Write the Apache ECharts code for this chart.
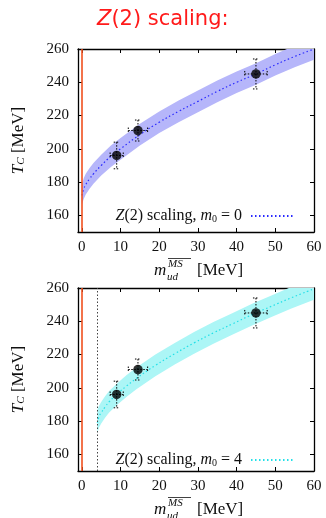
<!DOCTYPE html>
<html>
<head>
<meta charset="utf-8">
<script src="https://cdn.jsdelivr.net/npm/echarts@6/dist/echarts.min.js"></script>
<style>
  html, body { margin: 0; padding: 0; background: #fff; }
  #chart { width: 326px; height: 518px; }
</style>
</head>
<body>
<div id="chart"></div>
<script>
// axis ticks
const xTicks = [0, 10, 20, 30, 40, 50, 60];
const yTicks = [160, 180, 200, 220, 240, 260];

// lattice points: quark mass, T_c and their errors
const pointsM = [9.0, 14.5, 45.0];
const pointsT = [196, 211, 245];
const pointsErrM = [1.7, 2.5, 2.9];
const pointsErrT = [8, 6.3, 9];

// Z(2) fit, m0 = 0
const fitM_a = [0, 0.5, 1, 2, 3, 5, 7.5, 10, 15, 20, 25, 30, 35, 40, 45, 50, 55, 60];
const fitMid_a = [172, 176, 178.5, 182, 185, 190, 195.5, 200, 208.5, 216, 222.5, 228.5, 234.5, 240, 245, 250.5, 255.5, 260];
const fitLow_a = [166.5, 170, 172.5, 176, 179, 184, 189, 193.5, 202, 209.5, 216, 222, 228, 233.5, 238.5, 244, 249, 253.5];
const fitHigh_a = [178.5, 182.5, 185, 188.5, 191.5, 196.5, 202, 206.5, 215, 222.5, 229, 235, 241, 246.5, 251.5, 257, 262, 266.5];

// Z(2) fit, m0 = 4
const fitM_b = [4, 4.5, 5, 6, 7, 9, 11.5, 14, 19, 24, 29, 34, 39, 44, 49, 54, 60];
const fitMid_b = [179, 183, 185, 188.5, 191.5, 196, 201, 205.5, 213.5, 220.5, 227, 233, 238.5, 244, 249, 254, 259.5];
const fitLow_b = [173, 176.5, 178.5, 182, 185, 189.5, 194.5, 199, 207, 214, 220.5, 226.5, 232, 237.5, 242.5, 247.5, 253];
const fitHigh_b = [187, 189.5, 191.5, 195, 198, 202.5, 207.5, 212, 220, 227, 233.5, 239.5, 245, 250.5, 255.5, 260.5, 266];

const chiralM = 0;
const m0_b = 4;

const SERIF = 'Liberation Serif';
const INK = '#111';
const chart = echarts.init(document.getElementById('chart'));

const zip = (xs, ys) => xs.map((x, i) => [x, ys[i]]);

function xAxes(grid) {
  const base = {
    gridIndex: grid, type: 'value', min: -1, max: 60,
    splitLine: { show: false },
    axisLine: { show: true, onZero: false, lineStyle: { color: '#000', width: 1.3 } },
    axisTick: { show: true, inside: true, length: 4, customValues: xTicks, lineStyle: { color: '#000' } }
  };
  return [
    Object.assign({}, base, {
      position: 'bottom',
      axisLabel: { customValues: xTicks, margin: 8, color: INK, fontFamily: SERIF, fontSize: 15 }
    }),
    Object.assign({}, base, { position: 'top', axisLabel: { show: false } })
  ];
}

function yAxes(grid) {
  const base = {
    gridIndex: grid, type: 'value', min: 150, max: 260,
    splitLine: { show: false },
    axisLine: { show: true, onZero: false, lineStyle: { color: '#000', width: 1.3 } },
    axisTick: { show: true, inside: true, length: 4, customValues: yTicks, lineStyle: { color: '#000' } }
  };
  return [
    Object.assign({}, base, {
      position: 'left',
      axisLabel: { customValues: yTicks, margin: 9, color: INK, fontFamily: SERIF, fontSize: 15 },
      name: '{i|T}{s|C} [MeV]',
      nameLocation: 'middle', nameGap: 51, nameRotate: 90,
      nameTextStyle: {
        color: INK, fontFamily: SERIF, fontSize: 17,
        rich: {
          i: { fontFamily: SERIF, fontStyle: 'italic', fontSize: 17, color: INK },
          s: { fontFamily: SERIF, fontStyle: 'italic', fontSize: 11, color: INK, verticalAlign: 'bottom', lineHeight: 11 }
        }
      }
    }),
    Object.assign({}, base, { position: 'right', axisLabel: { show: false } })
  ];
}

// error band of a fit, drawn as one polygon through the axis scales
function bandSeries(xi, yi, ms, low, high, fill) {
  return {
    type: 'custom', xAxisIndex: xi, yAxisIndex: yi, z: 1, silent: true, clip: true,
    data: ms.map((m, i) => [m, low[i], high[i]]),
    encode: { x: 0, y: [1, 2] },
    renderItem: function (params, api) {
      if (params.dataIndex !== 0) return null;
      const lower = ms.map((m, i) => api.coord([m, low[i]]));
      const upper = ms.map((m, i) => api.coord([m, high[i]])).reverse();
      return {
        type: 'polygon',
        shape: { points: lower.concat(upper) },
        style: { fill: fill, stroke: null }
      };
    }
  };
}

function errorBars(xi, yi) {
  return {
    type: 'custom', xAxisIndex: xi, yAxisIndex: yi, z: 4, silent: true,
    data: pointsM.map((m, i) => [m, pointsT[i], pointsErrM[i], pointsErrT[i]]),
    encode: { x: 0, y: 1 },
    renderItem: function (params, api) {
      const m = api.value(0), t = api.value(1), dm = api.value(2), dt = api.value(3);
      const c = api.coord([m, t]);
      const l = api.coord([m - dm, t]), r = api.coord([m + dm, t]);
      const lo = api.coord([m, t - dt]), hi = api.coord([m, t + dt]);
      const cap = 3;
      const style = { stroke: '#000', lineWidth: 1, lineDash: [1.5, 1.5], fill: null };
      const seg = (x1, y1, x2, y2) => ({ type: 'line', shape: { x1, y1, x2, y2 }, style });
      return {
        type: 'group',
        children: [
          seg(l[0], c[1], r[0], c[1]),
          seg(c[0], hi[1], c[0], lo[1]),
          seg(l[0], c[1] - cap, l[0], c[1] + cap),
          seg(r[0], c[1] - cap, r[0], c[1] + cap),
          seg(c[0] - cap, hi[1], c[0] + cap, hi[1]),
          seg(c[0] - cap, lo[1], c[0] + cap, lo[1])
        ]
      };
    }
  };
}

function pointSeries(xi, yi) {
  return {
    type: 'scatter', xAxisIndex: xi, yAxisIndex: yi, z: 5,
    data: zip(pointsM, pointsT), symbol: 'circle', symbolSize: 9.5,
    itemStyle: { color: '#000' }
  };
}

function xTitle(yMid) {
  const it = (text, x, y, size) => ({
    type: 'text', x: x, y: y,
    style: { text: text, font: 'italic ' + size + 'px "' + SERIF + '"', fill: INK, verticalAlign: 'middle', align: 'left' }
  });
  return {
    type: 'group',
    children: [
      it('m', 154, yMid, 17),
      it('ud', 167, yMid + 6, 11),
      it('MS', 168, yMid - 7, 11),
      { type: 'line', shape: { x1: 168, y1: yMid - 12.5, x2: 191, y2: yMid - 12.5 }, style: { stroke: INK, lineWidth: 0.8 } },
      {
        type: 'text', x: 197, y: yMid,
        style: { text: '[MeV]', font: '17px "' + SERIF + '"', fill: INK, verticalAlign: 'middle', align: 'left' }
      }
    ]
  };
}

const legendRich = {
  i: { fontFamily: SERIF, fontStyle: 'italic', fontSize: 16, color: INK },
  s: { fontFamily: SERIF, fontSize: 10, color: INK, verticalAlign: 'bottom', lineHeight: 10 }
};
const nameA = 'Z(2) scaling, m0 = 0';
const nameB = 'Z(2) scaling, m0 = 4';

function legendFor(name, top, text) {
  return {
    data: [name], right: 30, top: top, padding: 0, align: 'right', itemGap: 0,
    itemWidth: 44, itemHeight: 12, selectedMode: false,
    itemStyle: { color: 'rgba(0,0,0,0)', borderWidth: 0, opacity: 0 },
    formatter: () => text,
    textStyle: { fontFamily: SERIF, fontSize: 16, color: INK, rich: legendRich, padding: [0, 4, 0, 0] }
  };
}

const option = {
  animation: false,
  backgroundColor: '#fff',
  title: {
    text: '{i|Z}(2) scaling:',
    left: 92, top: 4,
    textStyle: {
      color: '#ff1a1a', fontFamily: 'DejaVu Sans', fontSize: 21, fontWeight: 'normal',
      rich: {
        i: { color: '#ff1a1a', fontFamily: 'DejaVu Sans', fontSize: 21, fontStyle: 'italic' }
      }
    }
  },
  grid: [
    { left: 78, top: 49, width: 236, height: 183 },
    { left: 78, top: 288, width: 236, height: 183 }
  ],
  xAxis: xAxes(0).concat(xAxes(1)),
  yAxis: yAxes(0).concat(yAxes(1)),
  legend: [
    legendFor(nameA, 208, '{i|Z}(2) scaling, {i|m}{s|0} = 0'),
    legendFor(nameB, 452, '{i|Z}(2) scaling, {i|m}{s|0} = 4')
  ],
  graphic: [xTitle(271), xTitle(510)],
  series: [
    bandSeries(0, 0, fitM_a, fitLow_a, fitHigh_a, '#b6b6fa'),
    {
      name: nameA, type: 'line', xAxisIndex: 0, yAxisIndex: 0, z: 3,
      data: zip(fitM_a, fitMid_a), symbol: 'none', smooth: true,
      lineStyle: { color: '#2a2aff', width: 1.2, type: [1.5, 2.5] },
      itemStyle: { color: '#2a2aff' },
      markLine: {
        symbol: 'none', silent: true, label: { show: false },
        lineStyle: { color: '#f0501e', width: 1.6, type: 'solid' },
        data: [{ xAxis: chiralM }]
      }
    },
    errorBars(0, 0),
    pointSeries(0, 0),

    bandSeries(2, 2, fitM_b, fitLow_b, fitHigh_b, '#acf6f6'),
    {
      name: nameB, type: 'line', xAxisIndex: 2, yAxisIndex: 2, z: 3,
      data: zip(fitM_b, fitMid_b), symbol: 'none', smooth: true,
      lineStyle: { color: '#22e0e8', width: 1.2, type: [1.5, 2.5] },
      itemStyle: { color: '#22e0e8' },
      markLine: {
        symbol: 'none', silent: true, label: { show: false },
        data: [
          { xAxis: chiralM, lineStyle: { color: '#f0501e', width: 1.6, type: 'solid' } },
          { xAxis: m0_b, lineStyle: { color: '#444', width: 1, type: [1.5, 2] } }
        ]
      }
    },
    errorBars(2, 2),
    pointSeries(2, 2)
  ]
};

chart.setOption(option);
</script>
</body>
</html>
